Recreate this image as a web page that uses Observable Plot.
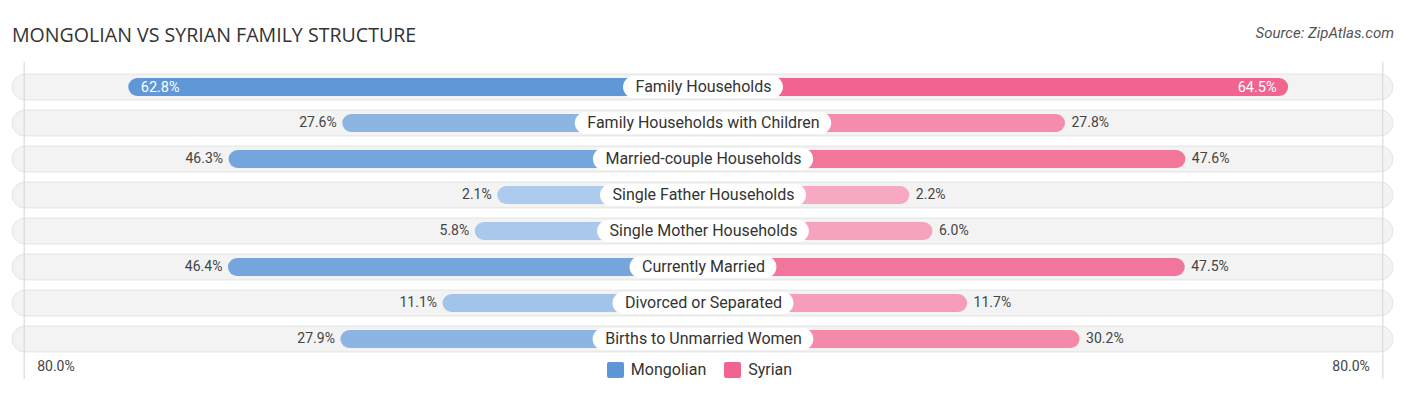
<!DOCTYPE html>
<html>
<head>
<meta charset="utf-8">
<script src="https://cdn.jsdelivr.net/npm/d3@7"></script>
<script src="https://cdn.jsdelivr.net/npm/@observablehq/plot@0.6"></script>
<style>
  html, body { margin: 0; padding: 0; background: #fff; }
  #wrap { position: relative; width: 1406px; height: 395px; font-family: Roboto, "Noto Sans", sans-serif; }
  #title { position: absolute; left: 12px; top: 21px; font-size: 19.6px; color: #333; font-family: "Open Sans", Roboto, sans-serif; }
  #source { position: absolute; right: 12px; top: 24px; font-size: 15px; color: #555; font-style: italic; }
  #legend { position: absolute; left: 0; width: 1399px; top: 360px; display: flex; justify-content: center; gap: 18px; font-size: 16px; color: #333; }
  #legend .item { display: flex; align-items: center; gap: 7px; }
  #legend .sw { width: 17px; height: 16px; border-radius: 2px; }
  #chart { position: absolute; left: 0; top: 0; }
  g[aria-label="row-bg"] rect { filter: drop-shadow(0 1px 1.5px rgba(0,0,0,0.18)); }
  g[aria-label="bars"] rect { filter: drop-shadow(0 1px 1px rgba(0,0,0,0.12)); }
  g[aria-label="label-pill"] rect { filter: drop-shadow(0 1px 2px rgba(0,0,0,0.25)); }
</style>
</head>
<body>
<div id="wrap">
  <div id="chart"></div>
  <div id="title">MONGOLIAN VS SYRIAN FAMILY STRUCTURE</div>
  <div id="source">Source: ZipAtlas.com</div>
  <div id="legend"></div>
</div>
<script>
const categories = [
  "Family Households",
  "Family Households with Children",
  "Married-couple Households",
  "Single Father Households",
  "Single Mother Households",
  "Currently Married",
  "Divorced or Separated",
  "Births to Unmarried Women"
];
const mongolian = [62.8, 27.6, 46.3, 2.1, 5.8, 46.4, 11.1, 27.9];
const syrian    = [64.5, 27.8, 47.6, 2.2, 6.0, 47.5, 11.7, 30.2];
const seriesNames = ["Mongolian", "Syrian"];
const axisMax = 80;
const axisLabel = "80.0%";

// layout / style constants
const W = 1406, H = 395;
const K = 6.079;              // pixels per percentage point
const OFF = 193 / K;          // gap under center label (in data units)
const HALF = (W / 2) / K;
const blueLight = "#b0cdee", blueDark = "#5e96d7";
const pinkLight = "#f7abc3", pinkDark = "#f0648f";
const cBlue = d3.interpolateRgb(blueLight, blueDark);
const cPink = d3.interpolateRgb(pinkLight, pinkDark);
const INSIDE = 50;

const rows = categories.map((c, i) => ({cat: c, m: mongolian[i], s: syrian[i]}));

const ctx = document.createElement("canvas").getContext("2d");
ctx.font = "16px Roboto";
const pillW = rows.map(r => ctx.measureText(r.cat).width + 24);

const step = 36.14;
const mTop = 86 - step / 2, mBottom = H - (339 + step / 2);
const inset = (h) => (step - h) / 2;

const plot = Plot.plot({
  width: W, height: H,
  marginLeft: 0, marginRight: 0, marginTop: mTop, marginBottom: mBottom,
  x: {domain: [-HALF, HALF], axis: null},
  y: {domain: categories, axis: null, padding: 0},
  style: {fontFamily: "Roboto, sans-serif"},
  marks: [
    Plot.barX(rows, {y: "cat", x1: -HALF, x2: HALF, insetLeft: 12, insetRight: 13,
      insetTop: inset(26), insetBottom: inset(26), rx: 13, fill: "#f3f3f3", stroke: "#e0e0e0", strokeWidth: 0.8, ariaLabel: "row-bg"}),
    Plot.ruleX([-(OFF + axisMax), OFF + axisMax], {x: d => d, stroke: "#d4d4d4", strokeWidth: 1, insetTop: -6, insetBottom: -22}),
    Plot.barX(rows, {y: "cat", x1: 0, x2: d => -(OFF + d.m), insetTop: inset(18), insetBottom: inset(18), rx: 9,
      fill: d => cBlue(Math.min(1, d.m / 64)), ariaLabel: "bars"}),
    Plot.barX(rows, {y: "cat", x1: 0, x2: d => OFF + d.s, insetTop: inset(18), insetBottom: inset(18), rx: 9,
      fill: d => cPink(Math.min(1, d.s / 64)), ariaLabel: "bars"}),
    Plot.barX(rows, {y: "cat", x1: (d, i) => -pillW[i] / 2 / K, x2: (d, i) => pillW[i] / 2 / K,
      insetTop: inset(22), insetBottom: inset(22), rx: 11, fill: "#fff", ariaLabel: "label-pill"}),
    Plot.text(rows, {y: "cat", x: 0, text: "cat", fontSize: 16, fill: "#333", dy: -1}),
    // Mongolian values
    Plot.text(rows.filter(d => d.m < INSIDE), {y: "cat", x: d => -(OFF + d.m), text: d => d.m.toFixed(1) + "%",
      textAnchor: "end", dx: -6, dy: -0.5, fontSize: 14, fill: "#444"}),
    Plot.text(rows.filter(d => d.m >= INSIDE), {y: "cat", x: d => -(OFF + d.m), text: d => d.m.toFixed(1) + "%",
      textAnchor: "start", dx: 12, dy: -0.5, fontSize: 14.5, fill: "#fff"}),
    // Syrian values
    Plot.text(rows.filter(d => d.s < INSIDE), {y: "cat", x: d => OFF + d.s, text: d => d.s.toFixed(1) + "%",
      textAnchor: "start", dx: 6, dy: -0.5, fontSize: 14, fill: "#444"}),
    Plot.text(rows.filter(d => d.s >= INSIDE), {y: "cat", x: d => OFF + d.s, text: d => d.s.toFixed(1) + "%",
      textAnchor: "end", dx: -12, dy: -0.5, fontSize: 14.5, fill: "#fff"}),
    // axis end labels
    Plot.text([-(OFF + axisMax)], {x: d => d, frameAnchor: "bottom", dy: 13, dx: 13, text: () => axisLabel,
      textAnchor: "start", fontSize: 14, fill: "#444"}),
    Plot.text([OFF + axisMax], {x: d => d, frameAnchor: "bottom", dy: 13, dx: -13, text: () => axisLabel,
      textAnchor: "end", fontSize: 14, fill: "#444"})
  ]
});
document.getElementById("chart").appendChild(plot);

const legend = document.getElementById("legend");
[[seriesNames[0], blueDark], [seriesNames[1], pinkDark]].forEach(([name, col]) => {
  const it = document.createElement("div");
  it.className = "item";
  it.innerHTML = `<span class="sw" style="background:${col}"></span><span>${name}</span>`;
  legend.appendChild(it);
});
</script>
</body>
</html>
